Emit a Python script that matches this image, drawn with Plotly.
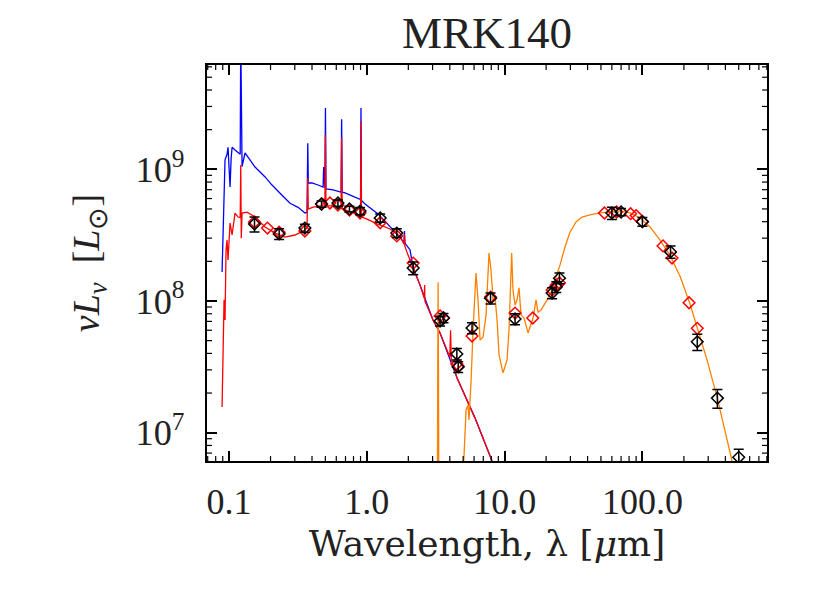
import plotly.graph_objects as go

# unattenuated stellar spectrum (blue)
lam_blue = [0.0890, 0.0905, 0.0920, 0.0935, 0.0951, 0.0967, 0.0983, 0.1000, 0.1017, 0.1035,
            0.1052, 0.1105, 0.1162, 0.1205, 0.1216, 0.1227, 0.1243, 0.1306, 0.1374, 0.1544,
            0.1825, 0.2051, 0.2424, 0.2772, 0.3167, 0.3560, 0.3680, 0.3727, 0.3760, 0.4002,
            0.4426, 0.4815, 0.4861, 0.4900, 0.4960, 0.5007, 0.5050, 0.5684, 0.6500, 0.6563,
            0.6620, 0.695, 0.821, 0.900, 0.9069, 0.914, 0.970, 1.091, 1.206, 1.356,
            1.549, 1.741, 1.860, 1.875, 1.890, 2.058, 2.164, 2.432, 3.022, 3.398,
            4.516, 6.10, 8.10, 9.26]
L_blue = [1.66e8, 2.90e8, 6.97e8, 1.18e9, 1.24e9, 1.30e9, 1.47e9, 1.10e9, 7.34e8, 1.20e9,
          1.47e9, 1.40e9, 1.33e9, 1.30e9, 1.0e10, 1.20e9, 1.05e9, 1.33e9, 1.24e9, 1.04e9,
          8.75e8, 7.59e8, 6.35e8, 5.52e8, 5.14e8, 4.66e8, 4.70e8, 1.58e9, 7.90e8, 7.87e8,
          7.60e8, 7.34e8, 1.04e9, 7.30e8, 7.20e8, 2.92e9, 7.10e8, 6.97e8, 6.70e8, 2.40e9,
          6.70e8, 6.61e8, 6.17e8, 5.90e8, 2.92e9, 5.80e8, 5.45e8, 4.99e8, 4.57e8, 4.04e8,
          3.46e8, 3.06e8, 2.80e8, 3.40e8, 2.75e8, 2.44e8, 1.81e8, 1.32e8, 7.18e7, 5.72e7,
          2.60e7, 1.29e7, 6.1e6, 4.53e6]

# attenuated stellar spectrum (red)
lam_red = [0.0890, 0.0905, 0.0920, 0.0935, 0.0951, 0.0967, 0.0983, 0.1017, 0.1052, 0.1105,
           0.1162, 0.1205, 0.1216, 0.1227, 0.1243, 0.1351, 0.1544, 0.1825, 0.2159, 0.2550,
           0.3010, 0.3560, 0.3680, 0.3727, 0.3760, 0.4071, 0.4574, 0.4800, 0.4861, 0.4900,
           0.4960, 0.5007, 0.5050, 0.5684, 0.6500, 0.6563, 0.6620, 0.672, 0.849, 0.900,
           0.9069, 0.914, 1.003, 1.186, 1.474, 1.741, 1.860, 1.875, 1.890, 1.957,
           2.164, 2.432, 2.610, 2.626, 2.640, 3.022, 3.398, 4.00, 4.05, 4.10,
           4.516, 6.10, 8.10, 9.26]
L_red = [1.57e7, 6.02e7, 1.02e8, 7.18e7, 2.44e8, 2.90e8, 2.05e8, 3.91e8, 3.17e8, 4.65e8,
         4.34e8, 4.30e8, 1.08e9, 3.00e8, 4.65e8, 4.73e8, 4.34e8, 3.65e8, 3.28e8, 3.06e8,
         3.17e8, 3.46e8, 3.60e8, 8.59e8, 4.99e8, 5.17e8, 5.27e8, 5.30e8, 6.00e8, 5.30e8,
         5.30e8, 1.82e9, 5.30e8, 5.27e8, 5.05e8, 1.73e9, 5.00e8, 4.99e8, 4.57e8, 4.40e8,
         2.32e9, 4.35e8, 4.19e8, 3.85e8, 3.52e8, 3.11e8, 2.70e8, 3.20e8, 2.60e8, 2.34e8,
         1.81e8, 1.32e8, 1.05e8, 1.32e8, 1.00e8, 7.18e7, 5.72e7, 3.75e7, 6.00e7, 3.60e7,
         2.60e7, 1.29e7, 6.1e6, 4.53e6]

# dust emission (orange)
lam_dust = [3.10, 3.25, 3.27, 3.29, 3.31, 3.33, 4.90, 5.25, 5.42, 5.51,
            5.70, 5.90, 6.20, 6.41, 6.63, 6.97, 7.33, 7.70, 7.96, 8.24,
            8.52, 8.81, 9.11, 9.74, 10.41, 10.76, 11.25, 11.50, 11.90, 12.30,
            12.72, 13.15, 13.83, 14.78, 15.54, 16.07, 16.90, 17.47, 18.37, 19.32,
            20.31, 21.71, 23.21, 25.23, 27.43, 29.83, 32.96, 36.45, 41.66, 49.24,
            58.21, 68.78, 81.28, 96.07, 113.6, 134.2, 158.6, 187.5, 221.5, 253.2,
            294.2, 347.8, 384.6, 446.9, 510.9]
L_dust = [3e6, 3e6, 3.0e7, 1.39e8, 3.0e7, 3e6, 3e6, 1.49e7, 1.62e7, 1.25e7,
          2.40e7, 6.03e7, 1.63e8, 1.02e8, 5.06e7, 5.33e7, 7.84e7, 2.31e8, 1.72e8, 1.02e8,
          1.07e8, 7.18e7, 3.90e7, 2.85e7, 3.57e7, 6.03e7, 2.31e8, 1.21e8, 9.33e7, 1.02e8,
          1.26e8, 7.84e7, 7.43e7, 5.72e7, 6.58e7, 7.43e7, 1.02e8, 8.24e7, 8.54e7, 9.31e7,
          1.02e8, 1.17e8, 1.44e8, 1.88e8, 2.57e8, 3.34e8, 3.98e8, 4.34e8, 4.50e8, 4.66e8,
          4.74e8, 4.83e8, 4.66e8, 4.27e8, 3.65e8, 2.90e8, 2.22e8, 1.54e8, 9.48e7, 6.03e7,
          3.57e7, 1.87e7, 1.19e7, 6.1e6, 3.69e6]

# model photometry (red diamonds)
lam_mod = [0.153, 0.19, 0.231, 0.355, 0.469, 0.54, 0.617, 0.748, 0.893, 1.25,
           1.65, 2.17, 3.4, 3.6, 4.5, 4.6, 5.8, 7.9, 11.9, 16.0,
           22.1, 23.7, 25.0, 53.0, 65.0, 82.0, 90.0, 100.0, 141.0, 164.0,
           218.0, 250.0]
L_mod = [3.98e8, 3.58e8, 3.33e8, 3.40e8, 5.45e8, 5.55e8, 5.35e8, 4.90e8, 4.66e8, 3.93e8,
         3.12e8, 1.94e8, 7.70e7, 7.43e7, 3.33e7, 3.20e7, 5.42e7, 1.07e8, 8.10e7, 7.43e7,
         1.21e8, 1.32e8, 1.37e8, 4.66e8, 4.74e8, 4.60e8, 4.45e8, 4.00e8, 2.62e8, 2.12e8,
         9.70e7, 6.20e7]

# observed photometry (black diamonds with errors)
lam_obs = [0.153, 0.231, 0.355, 0.469, 0.617, 0.748, 0.893, 1.25, 1.65, 2.17,
           3.4, 3.6, 4.5, 4.6, 5.8, 7.9, 11.9, 22.1, 23.7, 25.0,
           60.0, 70.0, 100.0, 160.0, 250.0, 350.0, 500.0]
L_obs = [3.84e8, 3.23e8, 3.58e8, 5.45e8, 5.55e8, 5.00e8, 4.82e8, 4.27e8, 3.28e8, 1.78e8,
         7.05e7, 7.43e7, 3.96e7, 3.16e7, 6.24e7, 1.05e8, 7.30e7, 1.15e8, 1.28e8, 1.49e8,
         4.66e8, 4.74e8, 4.00e8, 2.36e8, 4.90e7, 1.83e7, 6.5e6]
err_obs = [5.0e7, 3.0e7, 2.5e7, 3.0e7, 3.0e7, 2.5e7, 3.0e7, 3.0e7, 2.5e7, 2.0e7,
           6.0e6, 6.0e6, 4.0e6, 3.0e6, 6.0e6, 1.0e7, 7.0e6, 1.1e7, 1.2e7, 1.4e7,
           5.0e7, 3.0e7, 3.0e7, 2.5e7, 7.0e6, 3.0e6, 1.0e6]

SERIF = "Liberation Serif"
WIDE = "DejaVu Serif"
PAGE_OFF = 8  # body margin of the html page
XRANGE = [-1.16, 2.904]
YRANGE = [6.785, 9.792]

fig = go.Figure()
fig.add_trace(go.Scatter(x=lam_blue, y=L_blue, mode="lines",
                         line=dict(color="#0000ff", width=1.3)))
fig.add_trace(go.Scatter(x=lam_red, y=L_red, mode="lines",
                         line=dict(color="#ff0000", width=1.3)))
fig.add_trace(go.Scatter(x=lam_dust, y=L_dust, mode="lines",
                         line=dict(color="#ff8000", width=1.3)))
fig.add_trace(go.Scatter(x=lam_mod, y=L_mod, mode="markers",
                         marker=dict(symbol="diamond-open", size=9, color="#ff0000",
                                     line=dict(width=1.5))))
fig.add_trace(go.Scatter(x=lam_obs, y=L_obs, mode="markers",
                         marker=dict(symbol="diamond-open", size=9, color="black",
                                     line=dict(width=1.5)),
                         error_y=dict(type="data", array=err_obs, color="black",
                                      thickness=1.5, width=5)))

# minor log ticks (2..9 per decade), drawn inside on all four sides
x_minor = [k * 10.0 ** e for e in range(-2, 3) for k in range(2, 10)
           if 10 ** XRANGE[0] <= k * 10.0 ** e <= 10 ** XRANGE[1]]
y_minor = [k * 10.0 ** e for e in range(6, 10) for k in range(2, 10)
           if 10 ** YRANGE[0] <= k * 10.0 ** e <= 10 ** YRANGE[1]]
tick_line = dict(color="black", width=1.2)
for v in x_minor:
    for side, y1 in ((0, 5), (1, -5)):
        fig.add_shape(type="line", xref="x", x0=v, x1=v, yref="paper",
                      ysizemode="pixel", yanchor=side, y0=0, y1=y1, line=tick_line)
for v in y_minor:
    for side, x1 in ((0, 5), (1, -5)):
        fig.add_shape(type="line", yref="y", y0=v, y1=v, xref="paper",
                      xsizemode="pixel", xanchor=side, x0=0, x1=x1, line=tick_line)

axis_style = dict(
    type="log", automargin=False,
    tickmode="linear", tick0=0, dtick=1,
    ticks="inside", ticklen=10, tickwidth=1.5, tickcolor="black",
    showline=True, linecolor="black", linewidth=1.5, mirror="ticks",
    showgrid=False, zeroline=False,
)

fig.update_layout(
    width=830, height=593,
    margin=dict(l=207 - PAGE_OFF, r=63 + PAGE_OFF, t=65 - PAGE_OFF,
                b=132 + PAGE_OFF, autoexpand=False),
    plot_bgcolor="white", paper_bgcolor="white",
    showlegend=False,
    font=dict(family=SERIF, color="black"),
    title=dict(text="MRK140", font=dict(family=SERIF, size=45, color="#222"),
               x=0.5, xref="paper", xanchor="center",
               y=1 - (32 - PAGE_OFF) / 593, yref="container", yanchor="middle"),
    xaxis=dict(
        axis_style, range=XRANGE,
        tickformat=".1f",
        tickfont=dict(family=SERIF, size=36, color="#222"),
        ticklabelstandoff=8,
        title=dict(text="Wavelength, λ [<i>μ</i>m]",
                   font=dict(family=WIDE, size=36, color="#222"), standoff=10),
    ),
    yaxis=dict(
        axis_style, range=YRANGE,
        exponentformat="power", showexponent="all",
        tickfont=dict(family=SERIF, size=29, color="#222"),
        ticklabelstandoff=15,
        title=dict(text="<i>νL</i><sub><i>ν</i></sub>  [<i>L</i><sub>⊙</sub>]",
                   font=dict(family=SERIF, size=38, color="#222"), standoff=24),
    ),
)

fig.write_html("out.html")
